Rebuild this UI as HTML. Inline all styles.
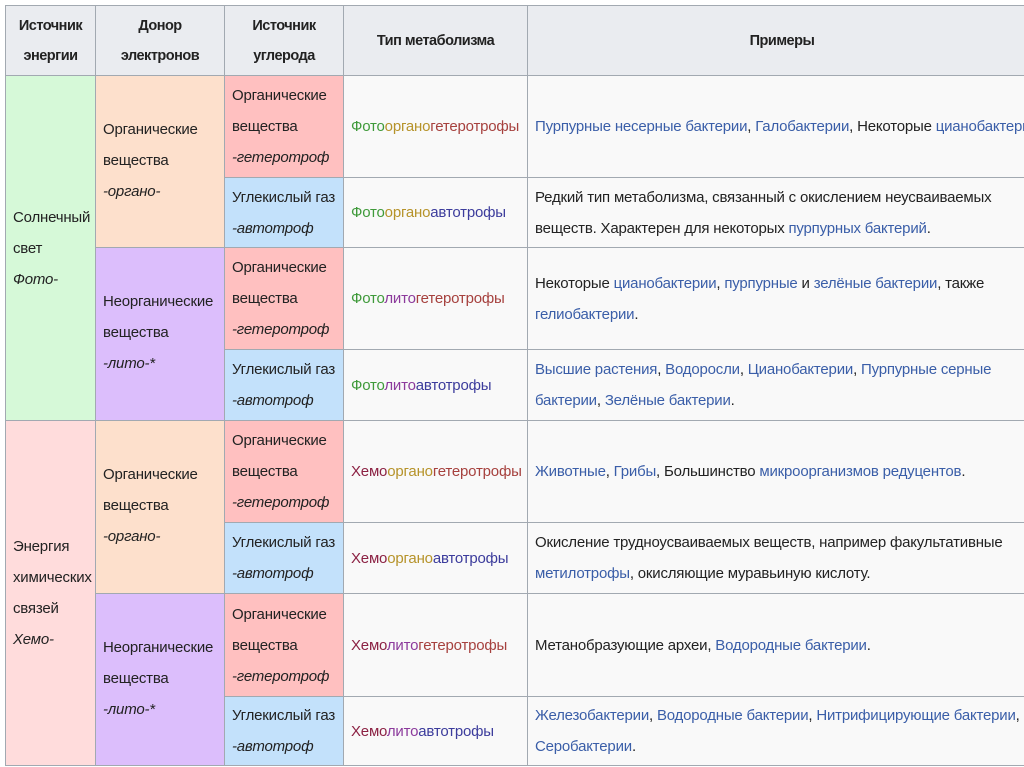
<!DOCTYPE html>
<html><head><meta charset="utf-8"><style>
body{margin:0;width:1024px;height:767px;overflow:hidden;background:#fff;font-family:"Liberation Sans","DejaVu Sans",sans-serif;font-size:15px;letter-spacing:-0.2px;color:#222}
.c{position:absolute;box-sizing:border-box;border:1px solid #a2a9b1;padding:0 7px;display:flex;flex-direction:column;justify-content:center;line-height:31px;white-space:nowrap;overflow:hidden}
.h{background:#eaecf0;font-weight:bold;text-align:center;line-height:30px;font-size:14.5px;letter-spacing:-0.5px}
.g{background:#d6f9d8}.pe{background:#fde0cc}.pk{background:#ffc0c0}.bl{background:#c3e1fb}.pu{background:#dcbefc}.rs{background:#ffdcdc}.w{background:#f9f9f9}
i{font-style:italic}
.fo{color:#3f9a3a}.or{color:#b6932a}.ge{color:#a6413e}.av{color:#3c3c9c}.li{color:#8c3a9c}.he{color:#8c2244}
a{color:#3a5ea8;text-decoration:none}
</style></head><body>
<div class="c h" style="left:5px;top:5px;width:91px;height:71px">Источник<br>энергии</div>
<div class="c h" style="left:95px;top:5px;width:130px;height:71px">Донор<br>электронов</div>
<div class="c h" style="left:224px;top:5px;width:120px;height:71px">Источник<br>углерода</div>
<div class="c h" style="left:343px;top:5px;width:185px;height:71px">Тип метаболизма</div>
<div class="c h" style="left:527px;top:5px;width:510px;height:71px">Примеры</div>

<div class="c g" style="left:5px;top:75px;width:91px;height:346px"><div>Солнечный<br>свет<br><i>Фото-</i></div></div>
<div class="c rs" style="left:5px;top:420px;width:91px;height:346px"><div>Энергия<br>химических<br>связей<br><i>Хемо-</i></div></div>

<div class="c pe" style="left:95px;top:75px;width:130px;height:173px;justify-content:flex-start;padding-top:38px"><div>Органические<br>вещества<br><i>-органо-</i></div></div>
<div class="c pu" style="left:95px;top:247px;width:130px;height:174px;justify-content:flex-start;padding-top:38px"><div>Неорганические<br>вещества<br><i>-лито-*</i></div></div>
<div class="c pe" style="left:95px;top:420px;width:130px;height:174px;justify-content:flex-start;padding-top:38px"><div>Органические<br>вещества<br><i>-органо-</i></div></div>
<div class="c pu" style="left:95px;top:593px;width:130px;height:173px;justify-content:flex-start;padding-top:38px"><div>Неорганические<br>вещества<br><i>-лито-*</i></div></div>

<div class="c pk" style="left:224px;top:75px;width:120px;height:103px"><div>Органические<br>вещества<br><i>-гетеротроф</i></div></div>
<div class="c bl" style="left:224px;top:177px;width:120px;height:71px"><div>Углекислый газ<br><i>-автотроф</i></div></div>
<div class="c pk" style="left:224px;top:247px;width:120px;height:103px"><div>Органические<br>вещества<br><i>-гетеротроф</i></div></div>
<div class="c bl" style="left:224px;top:349px;width:120px;height:72px"><div>Углекислый газ<br><i>-автотроф</i></div></div>
<div class="c pk" style="left:224px;top:420px;width:120px;height:103px"><div>Органические<br>вещества<br><i>-гетеротроф</i></div></div>
<div class="c bl" style="left:224px;top:522px;width:120px;height:72px"><div>Углекислый газ<br><i>-автотроф</i></div></div>
<div class="c pk" style="left:224px;top:593px;width:120px;height:104px"><div>Органические<br>вещества<br><i>-гетеротроф</i></div></div>
<div class="c bl" style="left:224px;top:696px;width:120px;height:70px"><div>Углекислый газ<br><i>-автотроф</i></div></div>

<div class="c w" style="left:343px;top:75px;width:185px;height:103px"><div><span class="fo">Фото</span><span class="or">органо</span><span class="ge">гетеротрофы</span></div></div>
<div class="c w" style="left:343px;top:177px;width:185px;height:71px"><div><span class="fo">Фото</span><span class="or">органо</span><span class="av">автотрофы</span></div></div>
<div class="c w" style="left:343px;top:247px;width:185px;height:103px"><div><span class="fo">Фото</span><span class="li">лито</span><span class="ge">гетеротрофы</span></div></div>
<div class="c w" style="left:343px;top:349px;width:185px;height:72px"><div><span class="fo">Фото</span><span class="li">лито</span><span class="av">автотрофы</span></div></div>
<div class="c w" style="left:343px;top:420px;width:185px;height:103px"><div><span class="he">Хемо</span><span class="or">органо</span><span class="ge">гетеротрофы</span></div></div>
<div class="c w" style="left:343px;top:522px;width:185px;height:72px"><div><span class="he">Хемо</span><span class="or">органо</span><span class="av">автотрофы</span></div></div>
<div class="c w" style="left:343px;top:593px;width:185px;height:104px"><div><span class="he">Хемо</span><span class="li">лито</span><span class="ge">гетеротрофы</span></div></div>
<div class="c w" style="left:343px;top:696px;width:185px;height:70px"><div><span class="he">Хемо</span><span class="li">лито</span><span class="av">автотрофы</span></div></div>

<div class="c w" style="left:527px;top:75px;width:510px;height:103px"><div><a>Пурпурные несерные бактерии</a>, <a>Галобактерии</a>, Некоторые <a>цианобактерии</a></div></div>
<div class="c w" style="left:527px;top:177px;width:510px;height:71px"><div>Редкий тип метаболизма, связанный с окислением неусваиваемых<br>веществ. Характерен для некоторых <a>пурпурных бактерий</a>.</div></div>
<div class="c w" style="left:527px;top:247px;width:510px;height:103px"><div>Некоторые <a>цианобактерии</a>, <a>пурпурные</a> и <a>зелёные бактерии</a>, также<br><a>гелиобактерии</a>.</div></div>
<div class="c w" style="left:527px;top:349px;width:510px;height:72px"><div><a>Высшие растения</a>, <a>Водоросли</a>, <a>Цианобактерии</a>, <a>Пурпурные серные</a><br><a>бактерии</a>, <a>Зелёные бактерии</a>.</div></div>
<div class="c w" style="left:527px;top:420px;width:510px;height:103px"><div><a>Животные</a>, <a>Грибы</a>, Большинство <a>микроорганизмов</a> <a>редуцентов</a>.</div></div>
<div class="c w" style="left:527px;top:522px;width:510px;height:72px"><div>Окисление трудноусваиваемых веществ, например факультативные<br><a>метилотрофы</a>, окисляющие муравьиную кислоту.</div></div>
<div class="c w" style="left:527px;top:593px;width:510px;height:104px"><div>Метанобразующие археи, <a>Водородные бактерии</a>.</div></div>
<div class="c w" style="left:527px;top:696px;width:510px;height:70px"><div><a>Железобактерии</a>, <a>Водородные бактерии</a>, <a>Нитрифицирующие бактерии</a>,<br><a>Серобактерии</a>.</div></div>
</body></html>
